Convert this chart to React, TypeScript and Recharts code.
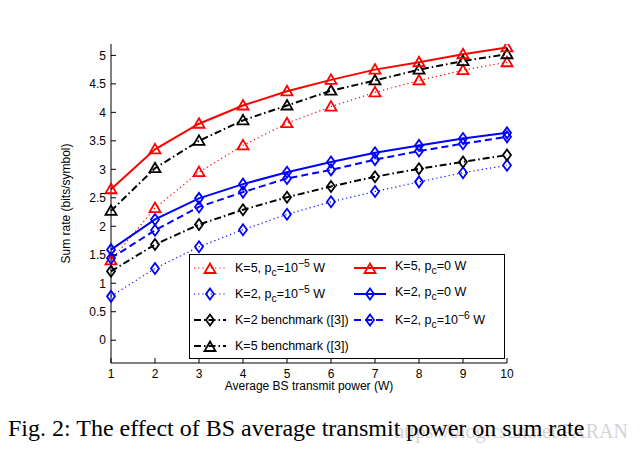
import { Label, Legend, Line, LineChart, XAxis, YAxis } from 'recharts';

const power = [1, 2, 3, 4, 5, 6, 7, 8, 9, 10];
const k5pc0 = [2.65, 3.35, 3.8, 4.12, 4.37, 4.57, 4.75, 4.88, 5.02, 5.14];
const k5bench = [2.27, 3.02, 3.5, 3.86, 4.12, 4.38, 4.56, 4.75, 4.9, 5.02];
const k5pc1e5 = [1.4, 2.32, 2.95, 3.42, 3.81, 4.1, 4.35, 4.56, 4.74, 4.88];
const k2pc0 = [1.59, 2.12, 2.49, 2.74, 2.95, 3.13, 3.29, 3.42, 3.54, 3.64];
const k2pc1e6 = [1.44, 1.93, 2.34, 2.6, 2.84, 2.99, 3.17, 3.32, 3.45, 3.57];
const k2bench = [1.21, 1.68, 2.03, 2.29, 2.51, 2.7, 2.87, 3.01, 3.13, 3.25];
const k2pc1e5 = [0.77, 1.26, 1.64, 1.94, 2.21, 2.43, 2.61, 2.78, 2.94, 3.07];

const yTicks = [0, 0.5, 1, 1.5, 2, 2.5, 3, 3.5, 4, 4.5, 5];

const data = power.map((p, i) => ({
  p,
  k5pc0: k5pc0[i],
  k5bench: k5bench[i],
  k5pc1e5: k5pc1e5[i],
  k2pc0: k2pc0[i],
  k2pc1e6: k2pc1e6[i],
  k2bench: k2bench[i],
  k2pc1e5: k2pc1e5[i],
}));

const triPath = (cx: number, cy: number) =>
  `M${cx},${cy - 5.5} L${cx + 5.5},${cy + 4} L${cx - 5.5},${cy + 4} Z`;
const diaPath = (cx: number, cy: number) =>
  `M${cx},${cy - 5.5} L${cx + 4},${cy} L${cx},${cy + 5.5} L${cx - 4},${cy} Z`;

const marker = (shape: 'tri' | 'dia', color: string) => (props: any) => {
  const { cx, cy, index, dataKey } = props;
  if (cx == null || cy == null) return <g key={`${dataKey}-${index}`} />;
  const d = shape === 'tri' ? triPath(cx, cy) : diaPath(cx, cy);
  return <path key={`${dataKey}-${index}`} d={d} fill="none" stroke={color} strokeWidth={1.8} />;
};

type Entry = { shape: 'tri' | 'dia'; color: string; dash?: string; width: number; label: any };

const legendRows: Entry[][] = [
  [
    { shape: 'tri', color: '#ff0000', dash: '1.2 3', width: 1.2, label: <>K=5, p<sub>c</sub>=10<sup>−5</sup> W</> },
    { shape: 'tri', color: '#ff0000', width: 2, label: <>K=5, p<sub>c</sub>=0 W</> },
  ],
  [
    { shape: 'dia', color: '#0000ff', dash: '1.2 3', width: 1.2, label: <>K=2, p<sub>c</sub>=10<sup>−5</sup> W</> },
    { shape: 'dia', color: '#0000ff', width: 2, label: <>K=2, p<sub>c</sub>=0 W</> },
  ],
  [
    { shape: 'dia', color: '#000000', dash: '7 3 1.5 3', width: 2, label: <>K=2 benchmark ([3])</> },
    { shape: 'dia', color: '#0000ff', dash: '7 4', width: 2, label: <>K=2, p<sub>c</sub>=10<sup>−6</sup> W</> },
  ],
  [{ shape: 'tri', color: '#000000', dash: '7 3 1.5 3', width: 2, label: <>K=5 benchmark ([3])</> }],
];

const Sample = ({ e }: { e: Entry }) => (
  <svg width={34} height={14} style={{ flex: 'none' }}>
    <line x1={1} y1={7} x2={33} y2={7} stroke={e.color} strokeWidth={e.width} strokeDasharray={e.dash} />
    <path d={e.shape === 'tri' ? triPath(17, 8) : diaPath(17, 7)} fill="none" stroke={e.color} strokeWidth={1.8} />
  </svg>
);

const LegendBox = () => (
  <div
    style={{
      width: 316,
      height: 105,
      border: '1px solid #000',
      background: '#fff',
      fontFamily: 'Liberation Sans, Arial, sans-serif',
      fontSize: 12.5,
      color: '#000',
      boxSizing: 'border-box',
      padding: '0 0 0 3px',
      overflow: 'hidden',
    }}
  >
    {legendRows.map((row, r) => (
      <div key={r} style={{ display: 'flex', height: 26, alignItems: 'center' }}>
        {row.map((e, c) => (
          <div key={c} style={{ display: 'flex', alignItems: 'center', width: c === 0 ? 160 : 150, gap: 8 }}>
            <Sample e={e} />
            <span style={{ whiteSpace: 'nowrap', lineHeight: '12px' }}>{e.label}</span>
          </div>
        ))}
      </div>
    ))}
  </div>
);

const axisFont = { fontFamily: 'Liberation Sans, Arial, sans-serif', fontSize: 12, fill: '#000' };

export default function App() {
  return (
    <div style={{ position: 'absolute', left: 0, top: 0, width: 640, height: 456, background: '#fff' }}>
      <LineChart width={640} height={400} data={data} margin={{ top: 44, right: 133, bottom: 0, left: 51 }}>
        <XAxis
          dataKey="p"
          type="number"
          domain={[1, 10]}
          ticks={power}
          height={37}
          tickSize={-5}
          tickMargin={11}
          stroke="#000"
          tick={axisFont}
        >
          <Label
            content={({ viewBox }: any) => (
              <text
                x={viewBox.x + viewBox.width / 2}
                y={viewBox.y + 27}
                textAnchor="middle"
                style={axisFont}
              >
                Average BS transmit power (W)
              </text>
            )}
          />
        </XAxis>
        <XAxis
          xAxisId="top"
          dataKey="p"
          type="number"
          orientation="top"
          domain={[1, 10]}
          ticks={power}
          height={0}
          tickSize={-5}
          tick={false}
          stroke="#000"
        />
        <YAxis
          type="number"
          domain={[-0.4, 5.2]}
          ticks={yTicks}
          width={60}
          tickSize={-5}
          tickMargin={10}
          stroke="#000"
          tick={axisFont}
          allowDataOverflow
        >
          <Label
            content={({ viewBox }: any) => {
              const x = viewBox.x + 19;
              const y = viewBox.y + viewBox.height / 2;
              return (
                <text x={x} y={y} textAnchor="middle" transform={`rotate(-90 ${x} ${y})`} style={axisFont}>
                  Sum rate (bits/symbol)
                </text>
              );
            }}
          />
        </YAxis>
        <YAxis
          yAxisId="right"
          orientation="right"
          type="number"
          domain={[-0.4, 5.2]}
          ticks={yTicks}
          width={0}
          tickSize={-5}
          tick={false}
          stroke="#000"
          allowDataOverflow
        />
        <Line dataKey="k5pc1e5" stroke="#ff0000" strokeWidth={1.2} strokeDasharray="1.2 3" dot={marker('tri', '#ff0000')} isAnimationActive={false} />
        <Line dataKey="k2pc1e5" stroke="#0000ff" strokeWidth={1.2} strokeDasharray="1.2 3" dot={marker('dia', '#0000ff')} isAnimationActive={false} />
        <Line dataKey="k2bench" stroke="#000000" strokeWidth={2} strokeDasharray="7 3 1.5 3" dot={marker('dia', '#000000')} isAnimationActive={false} />
        <Line dataKey="k5bench" stroke="#000000" strokeWidth={2} strokeDasharray="7 3 1.5 3" dot={marker('tri', '#000000')} isAnimationActive={false} />
        <Line dataKey="k2pc1e6" stroke="#0000ff" strokeWidth={2} strokeDasharray="7 4" dot={marker('dia', '#0000ff')} isAnimationActive={false} />
        <Line dataKey="k2pc0" stroke="#0000ff" strokeWidth={2} dot={marker('dia', '#0000ff')} isAnimationActive={false} />
        <Line dataKey="k5pc0" stroke="#ff0000" strokeWidth={2} dot={marker('tri', '#ff0000')} isAnimationActive={false} />
        <Legend
          layout="vertical"
          align="center"
          verticalAlign="middle"
          wrapperStyle={{ left: 189, top: 254, width: 316, height: 105 }}
          content={() => <LegendBox />}
        />
      </LineChart>
      <div
        style={{
          position: 'absolute',
          right: 12,
          top: 420,
          fontFamily: 'Liberation Serif, Times New Roman, serif',
          fontSize: 20,
          color: '#d4d4d4',
          whiteSpace: 'nowrap',
        }}
      >
        https://blog.csdn.net/PARAN
      </div>
      <div
        style={{
          position: 'absolute',
          left: 8,
          top: 415,
          fontFamily: 'Liberation Serif, Times New Roman, serif',
          fontSize: 24,
          color: '#000',
          whiteSpace: 'nowrap',
        }}
      >
        Fig. 2: The effect of BS average transmit power on sum rate
      </div>
    </div>
  );
}
